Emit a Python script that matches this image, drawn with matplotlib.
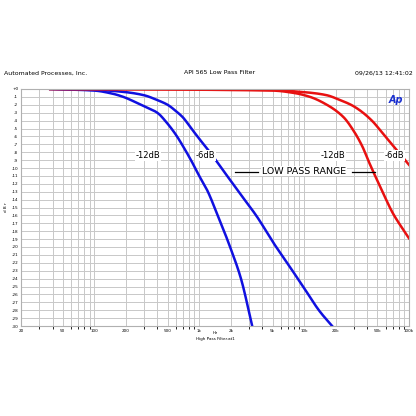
import numpy as np
import matplotlib.pyplot as plt
from matplotlib.ticker import FixedLocator, NullFormatter

# values (Hz, dB)
blue6_f = [38, 100, 200, 300, 398, 500, 600, 700, 820, 1000, 1250, 1690, 2500, 3570, 5000, 7300, 10000, 14000, 18500]
blue6_db = [0, -0.1, -0.4, -0.8, -1.4, -2.0, -2.8, -3.6, -4.8, -6.3, -7.9, -10.3, -13.4, -16.2, -19.3, -22.5, -25.2, -28.1, -30]
blue12_f = [38, 100, 150, 189, 250, 300, 398, 500, 600, 705, 850, 1000, 1190, 1500, 1970, 2500, 3200]
blue12_db = [0, -0.2, -0.6, -1.0, -1.7, -2.2, -3.0, -4.4, -5.8, -7.3, -9.2, -11.0, -12.8, -16.0, -20, -24.0, -30]
red6_f = [38, 3800, 8000, 12000, 16600, 22000, 28000, 34000, 45000, 56000, 75000, 100000]
red6_db = [0, 0, -0.3, -0.5, -0.8, -1.4, -2.0, -2.7, -4.1, -5.6, -7.6, -9.6]
red12_f = [38, 5000, 8000, 11400, 16000, 23500, 30000, 36000, 42000, 55000, 70000, 85000, 100000]
red12_db = [0, -0.2, -0.5, -1.0, -1.9, -3.5, -5.4, -7.3, -9.4, -12.8, -15.7, -17.5, -18.9]

xticks = [20, 50, 100, 200, 500, 1000, 2000, 5000, 10000, 20000, 50000, 100000]
xlabels = ['20', '50', '100', '200', '500', '1k', '2k', '5k', '10k', '20k', '50k', '100k']


def pchip(f, db, n=400):
    # monotone cubic through the read points, just for a smooth stroke
    x = np.log10(f)
    y = np.asarray(db, float)
    h = np.diff(x)
    d = np.diff(y) / h
    m = np.zeros_like(y)
    m[0], m[-1] = d[0], d[-1]
    for i in range(1, len(y) - 1):
        if d[i - 1] * d[i] > 0:
            w1, w2 = 2 * h[i] + h[i - 1], h[i] + 2 * h[i - 1]
            m[i] = (w1 + w2) / (w1 / d[i - 1] + w2 / d[i])
    xs = np.linspace(x[0], x[-1], n)
    k = np.clip(np.searchsorted(x, xs) - 1, 0, len(h) - 1)
    t = (xs - x[k]) / h[k]
    ys = ((2 * t**3 - 3 * t**2 + 1) * y[k] + (t**3 - 2 * t**2 + t) * h[k] * m[k]
          + (-2 * t**3 + 3 * t**2) * y[k + 1] + (t**3 - t**2) * h[k] * m[k + 1])
    return 10 ** xs, ys


fig = plt.figure(figsize=(4.16, 4.16), dpi=100)
ax = fig.add_axes([21/416, 90/416, 388/416, 237/416])
ax.set_xscale('log')
ax.set_xlim(20, 100000)
ax.set_ylim(-30, 0)

minor = [m * 10 ** e for e in range(1, 5) for m in range(2, 10) if 20 <= m * 10 ** e <= 100000]
ax.xaxis.set_minor_locator(FixedLocator(minor))
ax.xaxis.set_minor_formatter(NullFormatter())
ax.set_xticks(xticks)
ax.set_xticklabels(xlabels, fontsize=3)
ax.set_yticks(range(-30, 1))
ax.set_yticklabels(['+0' if v == 0 else str(v) for v in range(-30, 1)], fontsize=3)
ax.tick_params(length=0, pad=2)
ax.grid(True, which='both', color='#c8c8c8', lw=0.7)
for s in ax.spines.values():
    s.set_color('#b0b0b0')

for f, db, c in [(blue6_f, blue6_db, '#1010e0'), (blue12_f, blue12_db, '#1010e0'),
                 (red6_f, red6_db, '#e81010'), (red12_f, red12_db, '#e81010')]:
    ax.plot(*pchip(f, db), color=c, lw=1.8)

box = dict(fc='white', ec='none', pad=0.5)
ax.text(327, -8.4, '-12dB', fontsize=6, ha='center', va='center', bbox=box)
ax.text(1140, -8.4, '-6dB', fontsize=6, ha='center', va='center', bbox=box)
ax.text(18900, -8.4, '-12dB', fontsize=6, ha='center', va='center', bbox=box)
ax.text(73300, -8.4, '-6dB', fontsize=6, ha='center', va='center', bbox=box)
ax.text(10000, -10.4, 'LOW PASS RANGE', fontsize=6.8, ha='center', va='center', bbox=box)
ax.plot([2200, 3630], [-10.5, -10.5], color='black', lw=0.9)
ax.plot([28600, 47000], [-10.5, -10.5], color='black', lw=0.9)
ax.text(0.985, 0.975, 'Ap', transform=ax.transAxes, fontsize=7, color='#1a2fd0',
        fontweight='bold', style='italic', ha='right', va='top')

fig.text(4/416, 1 - 73/416, 'Automated Processes, Inc.', fontsize=4.5, va='center')
fig.text(220/416, 1 - 73/416, 'API 565 Low Pass Filter', fontsize=4.5, va='center', ha='center')
fig.text(413/416, 1 - 73/416, '09/26/13 12:41:02', fontsize=4.5, va='center', ha='right')
fig.text(6/416, 1 - 207/416, 'd B r', fontsize=3, rotation=90, va='center', ha='center')
fig.text(215/416, 1 - 334/416, 'Hz', fontsize=3, ha='center')
fig.text(215/416, 1 - 340/416, 'High Pass Filter.at1', fontsize=3, ha='center')

fig.savefig('out.png', dpi=100)
